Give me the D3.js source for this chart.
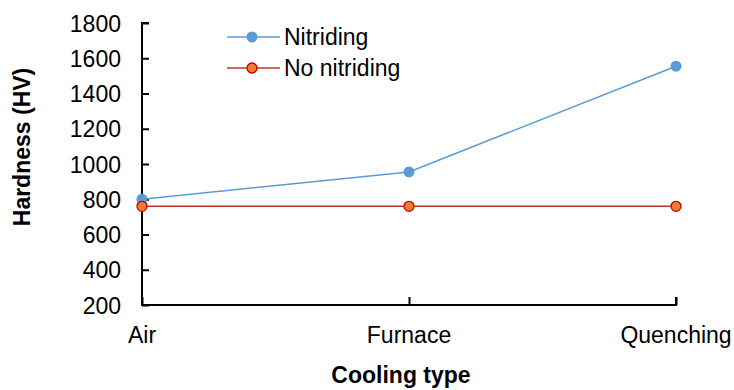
<!DOCTYPE html>
<html>
<head>
<meta charset="utf-8">
<script src="https://cdn.jsdelivr.net/npm/d3@7/dist/d3.min.js"></script>
<style>
  body { margin: 0; background: #fff; }
  svg { display: block; font-family: "Liberation Sans", Arial, sans-serif; }
</style>
</head>
<body>
<svg id="chart" width="734" height="390"></svg>
<script>
// Cooling methods on the x axis
const categories = ["Air", "Furnace", "Quenching"];
// Hardness values (HV) per series
const nitriding = [800, 955, 1555];
const noNitriding = [760, 760, 760];
// Y axis ticks
const yTicks = [200, 400, 600, 800, 1000, 1200, 1400, 1600, 1800];
const seriesNames = ["Nitriding", "No nitriding"];

const svg = d3.select("#chart");
const plotLeft = 142, plotRight = 676, plotTop = 23, plotBottom = 305;
const fontSize = 23;

const x = d3.scalePoint().domain(categories).range([plotLeft, plotRight]).padding(0);
const y = d3.scaleLinear().domain([200, 1800]).range([plotBottom, plotTop]);

// Y axis with inward ticks
const yAxis = svg.append("g").attr("transform", `translate(${plotLeft},0)`)
  .call(d3.axisRight(y).tickValues(yTicks).tickSize(7).tickFormat(""));
yAxis.select(".domain").attr("d", `M7,${plotTop}H0V${plotBottom}H7`);
yAxis.selectAll("path, line").attr("stroke", "#000").attr("stroke-width", 2);

svg.append("g").selectAll("text").data(yTicks).join("text")
  .attr("x", plotLeft - 21).attr("y", d => y(d)).attr("dy", "0.38em")
  .attr("text-anchor", "end").attr("font-size", fontSize).attr("fill", "#000")
  .text(d => d);

// X axis with inward ticks
const xAxis = svg.append("g").attr("transform", `translate(0,${plotBottom})`)
  .call(d3.axisTop(x).tickSize(8).tickFormat(""));
xAxis.select(".domain").attr("d", `M${plotLeft},-8V0H${plotRight}V-8`);
xAxis.selectAll("path, line").attr("stroke", "#000").attr("stroke-width", 2);

svg.append("g").selectAll("text").data(categories).join("text")
  .attr("x", d => x(d)).attr("y", 343)
  .attr("text-anchor", "middle").attr("font-size", fontSize).attr("fill", "#000")
  .text(d => d);

// Axis titles
svg.append("text").attr("x", 401).attr("y", 383).attr("text-anchor", "middle")
  .attr("font-size", fontSize).attr("font-weight", "bold").text("Cooling type");
svg.append("text").attr("transform", "translate(30,147) rotate(-90)")
  .attr("text-anchor", "middle").attr("font-size", fontSize).attr("font-weight", "bold")
  .text("Hardness (HV)");

const line = d3.line().x((d, i) => x(categories[i])).y(d => y(d));

// No nitriding series
svg.append("path").datum(noNitriding).attr("d", line)
  .attr("fill", "none").attr("stroke", "#C9302C").attr("stroke-width", 1.5);
// Nitriding series
svg.append("path").datum(nitriding).attr("d", line)
  .attr("fill", "none").attr("stroke", "#5B9BD5").attr("stroke-width", 1.5);

svg.append("g").selectAll("circle").data(nitriding).join("circle")
  .attr("cx", (d, i) => x(categories[i])).attr("cy", d => y(d)).attr("r", 5.5)
  .attr("fill", "#5B9BD5");
svg.append("g").selectAll("circle").data(noNitriding).join("circle")
  .attr("cx", (d, i) => x(categories[i])).attr("cy", d => y(d)).attr("r", 5)
  .attr("fill", "#ED7D31").attr("stroke", "#C00000").attr("stroke-width", 1.3);

// Legend
const legend = svg.append("g");
const legendRows = [
  { name: seriesNames[0], stroke: "#5B9BD5", fill: "#5B9BD5", mstroke: "none", r: 5.5, yy: 37 },
  { name: seriesNames[1], stroke: "#C9302C", fill: "#ED7D31", mstroke: "#C00000", r: 5, yy: 68 }
];
legendRows.forEach(r => {
  legend.append("line").attr("x1", 227).attr("x2", 280).attr("y1", r.yy).attr("y2", r.yy)
    .attr("stroke", r.stroke).attr("stroke-width", 1.5);
  legend.append("circle").attr("cx", 252).attr("cy", r.yy).attr("r", r.r)
    .attr("fill", r.fill).attr("stroke", r.mstroke).attr("stroke-width", 1.3);
  legend.append("text").attr("x", 284).attr("y", r.yy).attr("dy", "0.36em")
    .attr("font-size", fontSize).attr("fill", "#000").text(r.name);
});
</script>
</body>
</html>
